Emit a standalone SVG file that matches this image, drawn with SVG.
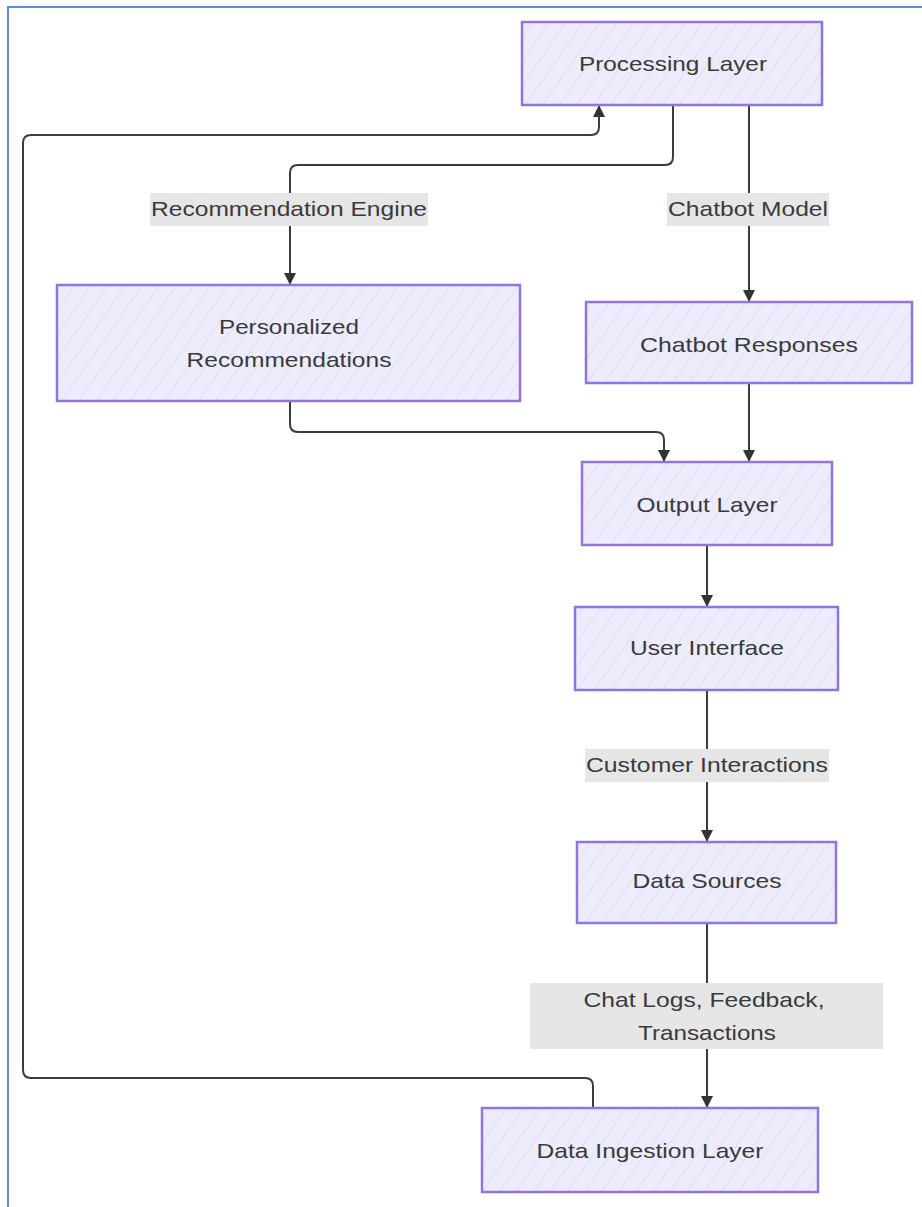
<svg xmlns="http://www.w3.org/2000/svg" width="922" height="1207" viewBox="0 0 922 1207">
<style>
.node rect{fill:url(#hatch);stroke:#9274dc;stroke-width:2.5}
.t{font-family:"Liberation Sans",Arial,sans-serif;font-size:21px;fill:#3a3a3a;text-anchor:middle}
.edge{fill:none;stroke:#3c3c3c;stroke-width:2}
.lbl{fill:#e6e6e6}
</style>
<defs>
<pattern id="hatch" patternUnits="userSpaceOnUse" width="14" height="14" patternTransform="rotate(35)">
<rect width="14" height="14" fill="#ececfd"/>
<line x1="0" y1="0" x2="0" y2="14" stroke="#dedcf6" stroke-width="2"/>
</pattern>
<marker id="arr" markerUnits="userSpaceOnUse" markerWidth="13" markerHeight="13" refX="12" refY="6" orient="auto">
<path d="M0,0 L12,6 L0,12 z" fill="#333"/>
</marker>
</defs>
<rect x="0" y="0" width="922" height="1207" fill="#ffffff"/>
<rect x="8" y="7" width="930" height="1220" fill="none" stroke="#5b8fd6" stroke-width="2"/>

<g id="connectors">
<path class="edge" d="M673 105 V157 Q673 165 665 165 H298 Q290 165 290 173 V285" marker-end="url(#arr)"/>
<path class="edge" d="M749 105 V302" marker-end="url(#arr)"/>
<path class="edge" d="M749 383 V462" marker-end="url(#arr)"/>
<path class="edge" d="M290 401 V424 Q290 432 298 432 H656 Q664 432 664 440 V462" marker-end="url(#arr)"/>
<path class="edge" d="M707 545 V607" marker-end="url(#arr)"/>
<path class="edge" d="M707 690 V842" marker-end="url(#arr)"/>
<path class="edge" d="M707 923 V1108" marker-end="url(#arr)"/>
<path class="edge" d="M593 1108 V1086 Q593 1078 585 1078 H31 Q23 1078 23 1070 V143 Q23 135 31 135 H591 Q599 135 599 127 V105" marker-end="url(#arr)"/>
<g id="edge-labels">
<rect class="lbl" x="150" y="193" width="278" height="33"/>
<text class="t" x="289" y="216" textLength="276" lengthAdjust="spacingAndGlyphs">Recommendation Engine</text>
<rect class="lbl" x="667" y="193" width="162" height="33"/>
<text class="t" x="748" y="216" textLength="160" lengthAdjust="spacingAndGlyphs">Chatbot Model</text>
<rect class="lbl" x="585" y="749" width="244" height="33"/>
<text class="t" x="707" y="772" textLength="242" lengthAdjust="spacingAndGlyphs">Customer Interactions</text>
<rect class="lbl" x="530" y="983" width="353" height="66"/>
<text class="t" x="704" y="1007" textLength="241" lengthAdjust="spacingAndGlyphs">Chat Logs, Feedback,</text>
<text class="t" x="707" y="1040" textLength="138" lengthAdjust="spacingAndGlyphs">Transactions</text>
</g>
</g>

<g id="processing" class="node">
<rect x="522" y="22" width="300" height="83"/>
<text class="t" x="673" y="71" textLength="188" lengthAdjust="spacingAndGlyphs">Processing Layer</text>
</g>
<g id="personalized" class="node">
<rect x="57" y="285" width="463" height="116"/>
<text class="t" x="289" y="334" textLength="140" lengthAdjust="spacingAndGlyphs">Personalized</text>
<text class="t" x="289" y="367" textLength="205" lengthAdjust="spacingAndGlyphs">Recommendations</text>
</g>
<g id="chatbot" class="node">
<rect x="586" y="302" width="326" height="81"/>
<text class="t" x="749" y="352" textLength="218" lengthAdjust="spacingAndGlyphs">Chatbot Responses</text>
</g>
<g id="output" class="node">
<rect x="582" y="462" width="250" height="83"/>
<text class="t" x="707" y="512" textLength="141" lengthAdjust="spacingAndGlyphs">Output Layer</text>
</g>
<g id="ui" class="node">
<rect x="575" y="607" width="263" height="83"/>
<text class="t" x="707" y="655" textLength="154" lengthAdjust="spacingAndGlyphs">User Interface</text>
</g>
<g id="datasources" class="node">
<rect x="577" y="842" width="259" height="81"/>
<text class="t" x="707" y="888" textLength="149" lengthAdjust="spacingAndGlyphs">Data Sources</text>
</g>
<g id="ingestion" class="node">
<rect x="482" y="1108" width="336" height="84"/>
<text class="t" x="650" y="1158" textLength="227" lengthAdjust="spacingAndGlyphs">Data Ingestion Layer</text>
</g>
</svg>
